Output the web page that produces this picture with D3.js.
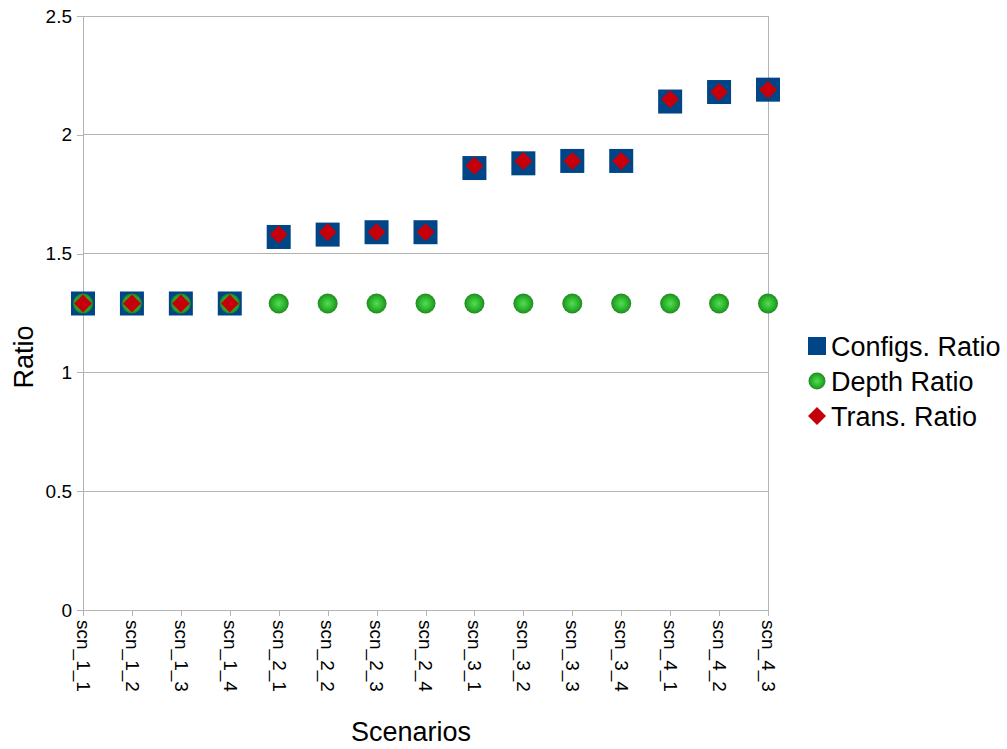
<!DOCTYPE html>
<html>
<head>
<meta charset="utf-8">
<script src="https://cdn.jsdelivr.net/npm/d3@7"></script>
<style>
  body { margin: 0; background: #fff; }
  text { font-family: "Liberation Sans", Arial, sans-serif; fill: #000; }
</style>
</head>
<body>
<svg id="chart" width="1007" height="749"></svg>
<script>
// Scenario names along the x axis
const scenarios = ["scn_1_1","scn_1_2","scn_1_3","scn_1_4","scn_2_1","scn_2_2","scn_2_3","scn_2_4",
                   "scn_3_1","scn_3_2","scn_3_3","scn_3_4","scn_4_1","scn_4_2","scn_4_3"];
// Series values per scenario
const configsRatio = [1.29,1.29,1.29,1.29,1.57,1.58,1.59,1.59,1.86,1.88,1.89,1.89,2.14,2.18,2.19];
const depthRatio   = [1.29,1.29,1.29,1.29,1.29,1.29,1.29,1.29,1.29,1.29,1.29,1.29,1.29,1.29,1.29];
const transRatio   = [1.29,1.29,1.29,1.29,1.58,1.59,1.59,1.59,1.87,1.89,1.89,1.89,2.15,2.18,2.19];
const yTicks = [0, 0.5, 1, 1.5, 2, 2.5];
const seriesNames = ["Configs. Ratio", "Depth Ratio", "Trans. Ratio"];

const svg = d3.select("#chart");
const plotLeft = 83, plotRight = 768, plotTop = 16, plotBottom = 610;
const grid = "#b3b3b3";

const x = d3.scalePoint().domain(scenarios).range([plotLeft, plotRight]).padding(0);
const y = d3.scaleLinear().domain([0, 2.5]).range([plotBottom, plotTop]);

// Radial gradient for the green spheres
const defs = svg.append("defs");
const g1 = defs.append("radialGradient").attr("id", "sphere").attr("cx", "50%").attr("cy", "50%").attr("r", "50%");
g1.append("stop").attr("offset", "0%").attr("stop-color", "#4fe04f");
g1.append("stop").attr("offset", "70%").attr("stop-color", "#2aac2a");
g1.append("stop").attr("offset", "100%").attr("stop-color", "#1e8a1e");

// Horizontal gridlines
svg.append("g").selectAll("line").data(yTicks.filter(d => d > 0)).join("line")
  .attr("x1", plotLeft).attr("x2", plotRight)
  .attr("y1", d => y(d)).attr("y2", d => y(d))
  .attr("stroke", grid).attr("stroke-width", 1).attr("shape-rendering", "crispEdges");

// Right border line of plot area
svg.append("line").attr("x1", plotRight).attr("x2", plotRight).attr("y1", plotTop).attr("y2", plotBottom)
  .attr("stroke", grid).attr("shape-rendering", "crispEdges");

// Y axis
const yAxis = d3.axisLeft(y).tickValues(yTicks).tickSize(6).tickPadding(5).tickFormat(d3.format("~g"));
const yg = svg.append("g").attr("transform", `translate(${plotLeft},0)`).call(yAxis);
yg.select(".domain").attr("stroke", grid).attr("shape-rendering", "crispEdges");
yg.selectAll(".tick line").attr("stroke", grid).attr("shape-rendering", "crispEdges");
yg.selectAll(".tick text").attr("font-size", 19).attr("font-family", "Liberation Sans, Arial, sans-serif").attr("fill", "#000");

// X axis
const xAxis = d3.axisBottom(x).tickSize(6).tickPadding(0);
const xg = svg.append("g").attr("transform", `translate(0,${plotBottom})`).call(xAxis);
xg.select(".domain").attr("stroke", grid).attr("shape-rendering", "crispEdges");
xg.selectAll(".tick line").attr("stroke", grid).attr("shape-rendering", "crispEdges");
xg.selectAll(".tick text")
  .attr("font-size", 19).attr("font-family", "Liberation Sans, Arial, sans-serif").attr("fill", "#000")
  .attr("text-anchor", "start").attr("dy", "0.35em")
  .attr("transform", "translate(0,10) rotate(90)").attr("x", 0).attr("y", 0);

// Axis titles
svg.append("text").attr("x", 411).attr("y", 741).attr("text-anchor", "middle")
  .attr("font-size", 27).text("Scenarios");
svg.append("text").attr("transform", "translate(33,357) rotate(-90)").attr("text-anchor", "middle")
  .attr("font-size", 27).text("Ratio");

// Markers
const sq = 24;
svg.append("g").selectAll("rect").data(configsRatio).join("rect")
  .attr("x", (d, i) => x(scenarios[i]) - sq / 2).attr("y", d => y(d) - sq / 2)
  .attr("width", sq).attr("height", sq).attr("fill", "#004586");

svg.append("g").selectAll("circle").data(depthRatio).join("circle")
  .attr("cx", (d, i) => x(scenarios[i])).attr("cy", d => y(d)).attr("r", 10)
  .attr("fill", "url(#sphere)");

const dm = 9;
const diamond = (cx, cy, r) => `M${cx},${cy - r}L${cx + r},${cy}L${cx},${cy + r}L${cx - r},${cy}Z`;
svg.append("g").selectAll("path").data(transRatio).join("path")
  .attr("d", (d, i) => diamond(x(scenarios[i]), y(d), dm)).attr("fill", "#c5000b");

// Legend
const lg = svg.append("g");
const ly = [346, 381, 416];
lg.append("rect").attr("x", 808).attr("y", ly[0] - 9).attr("width", 18).attr("height", 18).attr("fill", "#004586");
lg.append("circle").attr("cx", 817).attr("cy", ly[1]).attr("r", 8.5).attr("fill", "url(#sphere)");
lg.append("path").attr("d", diamond(817, ly[2], 9)).attr("fill", "#c5000b");
lg.selectAll("text").data(seriesNames).join("text")
  .attr("x", 831).attr("y", (d, i) => ly[i]).attr("dy", "0.36em")
  .attr("font-size", 27).text(d => d);
</script>
</body>
</html>
